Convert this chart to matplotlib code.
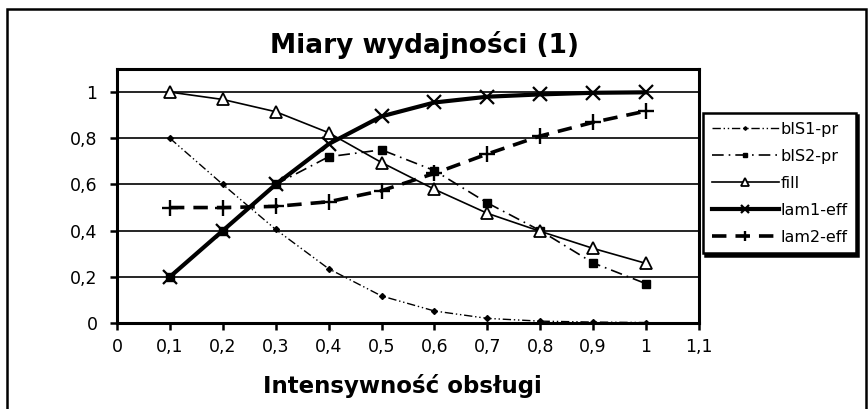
import matplotlib
matplotlib.use("Agg")
import matplotlib.pyplot as plt
import matplotlib.ticker as ticker
from matplotlib.patches import Rectangle

# data
intensity = [0.1, 0.2, 0.3, 0.4, 0.5, 0.6, 0.7, 0.8, 0.9, 1.0]
bis1_pr = [0.80, 0.60, 0.405, 0.235, 0.117, 0.052, 0.02, 0.008, 0.004, 0.002]
bis2_pr = [0.20, 0.40, 0.60, 0.72, 0.75, 0.66, 0.52, 0.40, 0.26, 0.17]
fill = [1.0, 0.968, 0.915, 0.824, 0.695, 0.579, 0.475, 0.397, 0.323, 0.258]
lam1_eff = [0.20, 0.40, 0.60, 0.775, 0.895, 0.955, 0.98, 0.99, 0.997, 0.999]
lam2_eff = [0.50, 0.50, 0.505, 0.525, 0.573, 0.648, 0.732, 0.81, 0.869, 0.918]

title = "Miary wydajności (1)"
x_label = "Intensywność obsługi"
x_ticks = [0, 0.1, 0.2, 0.3, 0.4, 0.5, 0.6, 0.7, 0.8, 0.9, 1.0, 1.1]
y_ticks = [0, 0.2, 0.4, 0.6, 0.8, 1.0]

W, H = 868, 409
fig = plt.figure(figsize=(W / 100, H / 100), dpi=100)
ax = fig.add_axes([117 / W, 1 - 323 / H, (699 - 117) / W, (323 - 69) / H])

ax.plot(intensity, bis1_pr, color="black", lw=1.0, linestyle=(0, (6, 2, 1, 2, 1, 2)),
        marker="D", ms=3, label="bIS1-pr")
ax.plot(intensity, bis2_pr, color="black", lw=1.2, linestyle=(0, (7, 3, 1, 3)),
        marker="s", ms=6, label="bIS2-pr")
ax.plot(intensity, fill, color="black", lw=1.2, marker="^", ms=9,
        markerfacecolor="white", markeredgewidth=1.3, label="fill")
ax.plot(intensity, lam1_eff, color="black", lw=3.0, marker="x", ms=10,
        markeredgewidth=1.6, label="lam1-eff")
ax.plot(intensity, lam2_eff, color="black", lw=2.6, linestyle=(0, (4, 2.5)),
        marker="+", ms=12, markeredgewidth=1.7, label="lam2-eff")

ax.set_xlim(0, 1.1)
ax.set_ylim(0, 1.1)
ax.set_xticks(x_ticks)
ax.set_yticks(y_ticks)
comma_fmt = ticker.FuncFormatter(lambda v, _: f"{v:g}".replace(".", ","))
ax.xaxis.set_major_formatter(comma_fmt)
ax.yaxis.set_major_formatter(comma_fmt)
ax.tick_params(axis="both", direction="out", length=5, width=1.8, labelsize=12.5, colors="black")
ax.tick_params(axis="x", pad=6)
ax.tick_params(axis="y", pad=9)
for sp in ax.spines.values():
    sp.set_linewidth(2.2)
    sp.set_color("black")

for y in y_ticks[1:]:
    ax.axhline(y, color="black", lw=1.2, zorder=0.5)

ax.set_xlabel(x_label, fontsize=16.5, fontweight="bold")
ax.xaxis.set_label_coords(0.49, -0.2)

fig.text(425 / W, 1 - 53 / H, title, ha="center", va="baseline",
         fontsize=19, fontweight="bold")

leg = ax.legend(loc="upper left", bbox_to_anchor=(703 / W, 1 - 113 / H),
                bbox_transform=fig.transFigure, borderaxespad=0, fontsize=11.5,
                handlelength=4.2, handletextpad=0.1, labelspacing=0.75,
                borderpad=0.55, fancybox=False, framealpha=1, markerscale=0.6,
                shadow={"color": "black", "alpha": 1, "ox": 1.5, "oy": -1.5})
leg.get_frame().set_edgecolor("black")
leg.get_frame().set_linewidth(1.8)

fig.patches.append(Rectangle((7 / W, -0.05), (866 - 7) / W, 1.05 - 9 / H,
                             transform=fig.transFigure, fill=False,
                             edgecolor="black", lw=1.8))

fig.savefig("out.png", dpi=100)
